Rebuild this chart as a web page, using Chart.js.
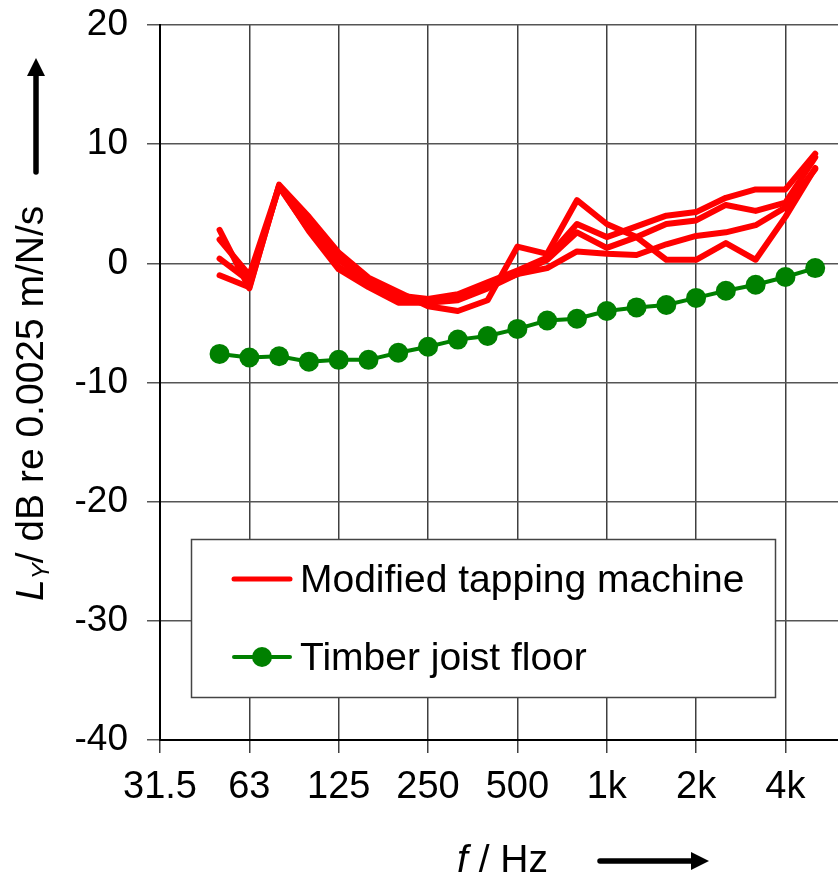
<!DOCTYPE html>
<html>
<head>
<meta charset="utf-8">
<script src="https://cdn.jsdelivr.net/npm/chart.js@4.4.1/dist/chart.umd.min.js"></script>
<style>
  html, body { margin: 0; padding: 0; background: #fff; overflow: hidden; }
  canvas { display: block; }
</style>
</head>
<body>
<canvas id="lyChart" width="857" height="876"></canvas>
<script>
// third-octave bands on the category axis (the last one falls just off the picture)
const bands = ['31.5','40','50','63','80','100','125','160','200','250','315','400','500','630','800','1000','1250','1600','2000','2500','3150','4000','5000','6300'];
const measuredBands = bands.slice(2, 23); // 50 Hz .. 5 kHz
const tickLabels = ['31.5','63','125','250','500','1k','2k','4k'];

// L_Y in dB re 0.0025 m/N/s
const tapping1 = [2.8, -2.1, 6.6, 3.9, 0.9, -1.2, -2.4, -3.6, -4.0, -3.1, 1.4, 0.8, 5.3, 3.3, 2.2, 0.3, 0.3, 1.7, 0.3, 3.9, 8.0];
const tapping2 = [2.0, -1.0, 6.5, 3.5, 0.3, -1.5, -2.7, -3.0, -2.6, -1.6, -0.6, 0.5, 3.3, 2.2, 3.1, 4.0, 4.3, 5.5, 6.2, 6.2, 9.2];
const tapping3 = [0.4, -1.5, 6.4, 2.8, -0.3, -1.8, -3.0, -3.3, -2.8, -1.9, -0.9, 0.3, 2.6, 1.3, 2.2, 3.3, 3.6, 4.9, 4.4, 5.1, 8.9];
const tapping4 = [-1.0, -2.0, 6.5, 2.7, -0.5, -2.0, -3.3, -3.3, -3.1, -2.1, -0.9, -0.4, 1.0, 0.8, 0.7, 1.6, 2.3, 2.6, 3.2, 4.7, 7.9];
const timberFloor = [-7.6, -7.9, -7.8, -8.25, -8.1, -8.1, -7.5, -7.0, -6.4, -6.1, -5.5, -4.8, -4.65, -4.0, -3.7, -3.5, -2.9, -2.3, -1.8, -1.15, -0.4];

const RED = '#ff0000';
const GREEN = '#008000';
const FONT = '"Liberation Sans", Arial, sans-serif';

function toPoints(vals) {
  return vals.map((v, i) => ({ x: measuredBands[i], y: v }));
}

function tappingSet(vals) {
  return {
    label: 'Modified tapping machine',
    data: toPoints(vals),
    borderColor: RED,
    borderWidth: 6,
    borderJoinStyle: 'round',
    borderCapStyle: 'round',
    pointRadius: 0,
    fill: false
  };
}

const datasets = [
  tappingSet(tapping1),
  tappingSet(tapping2),
  tappingSet(tapping3),
  tappingSet(tapping4),
  {
    label: 'Timber joist floor',
    data: toPoints(timberFloor),
    borderColor: GREEN,
    borderWidth: 4,
    pointRadius: 10,
    pointBackgroundColor: GREEN,
    pointBorderWidth: 0,
    fill: false
  }
];

function arrow(ctx, x1, y1, x2, y2) {
  const ang = Math.atan2(y2 - y1, x2 - x1);
  const headLen = 18, headHalf = 9;
  const bx = x2 - headLen * Math.cos(ang), by = y2 - headLen * Math.sin(ang);
  ctx.beginPath();
  ctx.lineWidth = 5.5;
  ctx.strokeStyle = '#000';
  ctx.moveTo(x1, y1);
  ctx.lineTo(bx, by);
  ctx.stroke();
  ctx.beginPath();
  ctx.fillStyle = '#000';
  ctx.moveTo(x2, y2);
  ctx.lineTo(bx - headHalf * Math.sin(ang), by + headHalf * Math.cos(ang));
  ctx.lineTo(bx + headHalf * Math.sin(ang), by - headHalf * Math.cos(ang));
  ctx.closePath();
  ctx.fill();
}

const decorPlugin = {
  id: 'decor',
  afterDraw(chart) {
    const ctx = chart.ctx;
    ctx.save();

    // legend box, one entry per distinct label
    const seen = [];
    chart.data.datasets.forEach(ds => {
      if (!seen.find(s => s.label === ds.label)) seen.push(ds);
    });
    const box = { x: 191.5, y: 539.5, w: 584, h: 158 };
    ctx.fillStyle = '#fff';
    ctx.fillRect(box.x, box.y, box.w, box.h);
    ctx.lineWidth = 1.5;
    ctx.strokeStyle = '#444';
    ctx.strokeRect(box.x, box.y, box.w, box.h);
    ctx.font = '39px ' + FONT;
    ctx.textBaseline = 'middle';
    ctx.textAlign = 'left';
    seen.forEach((ds, i) => {
      const y = 579 + i * 78;
      ctx.beginPath();
      ctx.strokeStyle = ds.borderColor;
      ctx.lineWidth = Math.min(ds.borderWidth, 5);
      ctx.lineCap = 'round';
      ctx.moveTo(234, y);
      ctx.lineTo(290, y);
      ctx.stroke();
      if (ds.pointRadius) {
        ctx.beginPath();
        ctx.fillStyle = ds.pointBackgroundColor;
        ctx.arc(262, y, ds.pointRadius, 0, Math.PI * 2);
        ctx.fill();
      }
      ctx.fillStyle = '#000';
      ctx.fillText(ds.label, 300, y + 2);
    });

    // y axis title, rotated
    ctx.save();
    ctx.translate(43, 601);
    ctx.rotate(-Math.PI / 2);
    ctx.textBaseline = 'alphabetic';
    ctx.fillStyle = '#000';
    let x = 0;
    ctx.font = 'italic 39px ' + FONT;
    ctx.fillText('L', x, 0);
    x += ctx.measureText('L').width;
    ctx.font = 'italic 24px ' + FONT;
    ctx.fillText('Y', x, 6);
    x += ctx.measureText('Y').width;
    ctx.font = '39px ' + FONT;
    ctx.fillText('/ dB re 0.0025 m/N/s', x, 0);
    ctx.restore();
    arrow(ctx, 36, 172, 36, 58);

    // x axis title
    ctx.textBaseline = 'alphabetic';
    ctx.fillStyle = '#000';
    ctx.font = 'italic 39px ' + FONT;
    ctx.fillText('f', 457, 872);
    const fw = ctx.measureText('f').width;
    ctx.font = '39px ' + FONT;
    ctx.fillText(' / Hz', 457 + fw, 872);
    arrow(ctx, 600, 861, 709, 861);

    ctx.restore();
  }
};

const ctx = document.getElementById('lyChart').getContext('2d');
const lyChart = new Chart(ctx, {
  type: 'line',
  data: { labels: bands, datasets: datasets },
  options: {
    responsive: false,
    animation: false,
    layout: { padding: { top: 25, right: 6, left: 0, bottom: 0 } },
    plugins: { legend: { display: false }, tooltip: { enabled: false } },
    scales: {
      x: {
        type: 'category',
        offset: false,
        afterFit: s => { s.height = 136; },
        border: { color: '#000', width: 2 },
        grid: {
          color: c => (c.index % 3 === 0 ? '#404040' : 'rgba(0,0,0,0)'),
          lineWidth: 1.5,
          tickLength: 13
        },
        ticks: {
          autoSkip: false,
          maxRotation: 0,
          minRotation: 0,
          padding: 12,
          color: '#000',
          font: { family: FONT, size: 38 },
          callback: (val, i) => (i % 3 === 0 && tickLabels[i / 3] ? tickLabels[i / 3] : '')
        }
      },
      y: {
        min: -40,
        max: 20,
        afterFit: s => { s.width = 160; s.paddingTop = 0; s.paddingBottom = 0; },
        border: { color: '#000', width: 2 },
        grid: { color: '#555', lineWidth: 1.5, tickLength: 13 },
        ticks: {
          stepSize: 10,
          padding: 19,
          color: '#000',
          font: { family: FONT, size: 37 }
        }
      }
    }
  },
  plugins: [decorPlugin]
});
</script>
</body>
</html>
